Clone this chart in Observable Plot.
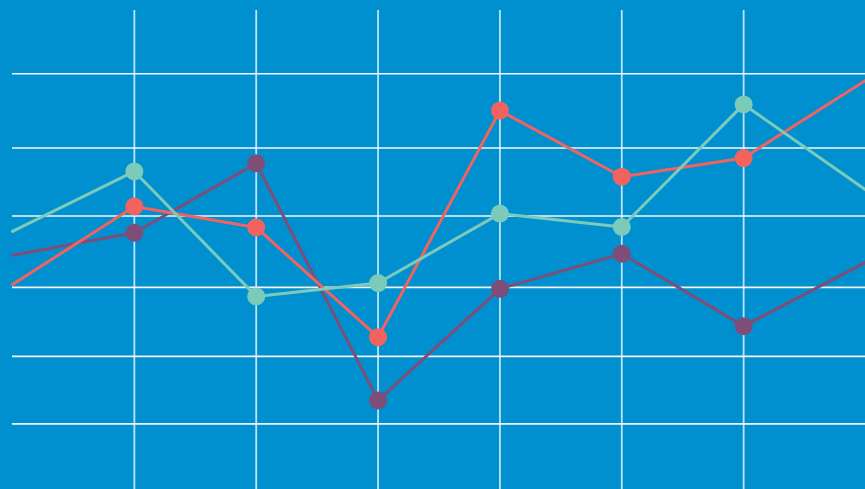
<!DOCTYPE html>
<html>
<head>
<meta charset="utf-8">
<script src="https://cdn.jsdelivr.net/npm/d3@7"></script>
<script src="https://cdn.jsdelivr.net/npm/@observablehq/plot@0.6"></script>
<style>
  html, body { margin: 0; padding: 0; background: #0090CF; overflow: hidden; }
  #chart svg { display: block; }
</style>
</head>
<body>
<div id="chart"></div>
<script>
// Categories (x positions; 0 and 7 lie at the frame edges, dots only for 1..6)
const steps = [0, 1, 2, 3, 4, 5, 6, 7];
const dotSteps = [1, 2, 3, 4, 5, 6];

// Series values (arbitrary units 0..100)
const redValues    = [42.8, 59.1, 54.7, 31.8, 79.1, 65.3, 69.2, 85.4];
const tealValues   = [53.9, 66.4, 40.3, 43.1, 57.6, 54.8, 80.4, 62.6];
const purpleValues = [48.9, 53.6, 68.1, 18.6, 41.9, 49.2, 34.1, 47.4];

// Grid lines
const xGrid = [1, 2, 3, 4, 5, 6];
const yGrid = [13.7, 27.8, 42.2, 57.1, 71.3, 86.8];

const series = [
  {name: "purple", color: "#7E4E78", values: purpleValues},
  {name: "red",    color: "#F2635F", values: redValues},
  {name: "teal",   color: "#7CCAB9", values: tealValues}
];

const rows = series.flatMap(s => steps.map((x, i) => ({series: s.name, color: s.color, x, y: s.values[i]})));
const dotRows = rows.filter(d => dotSteps.includes(d.x));

const marks = [
  Plot.ruleY(yGrid, {stroke: "#ffffff", strokeWidth: 1.6, strokeOpacity: 0.95}),
  Plot.ruleX(xGrid, {stroke: "#ffffff", strokeWidth: 1.8, strokeOpacity: 0.75})
];
for (const s of series) {
  marks.push(Plot.line(rows.filter(d => d.series === s.name), {x: "x", y: "y", stroke: s.color, strokeWidth: 3, strokeLinejoin: "round"}));
}
for (const s of series) {
  marks.push(Plot.dot(dotRows.filter(d => d.series === s.name), {x: "x", y: "y", r: 9, fill: s.color, stroke: "none"}));
}

const chart = Plot.plot({
  width: 865,
  height: 489,
  marginLeft: 12,
  marginRight: 0,
  marginTop: 10,
  marginBottom: 0,
  style: {background: "#0090CF", overflow: "hidden"},
  x: {domain: [0, 7], axis: null},
  y: {domain: [0, 100], axis: null},
  marks
});
document.getElementById("chart").appendChild(chart);
</script>
</body>
</html>
